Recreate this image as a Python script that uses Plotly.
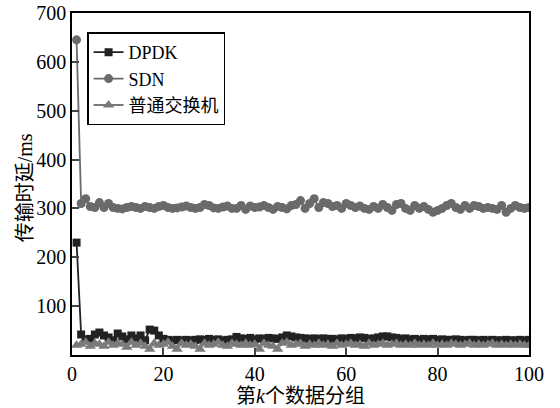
import plotly.graph_objects as go

x = list(range(1, 101))

dpdk = [230, 42, 32, 33, 42, 46, 40, 36, 30, 44, 38, 32, 40, 34, 40, 30, 52, 50, 40, 33,
        31, 30, 31, 30, 31, 30, 31, 32, 31, 33, 31, 32, 30, 31, 32, 37, 34, 33, 35, 32,
        34, 33, 35, 34, 33, 36, 40, 38, 36, 35, 34, 33, 34, 33, 34, 33, 33, 32, 34, 33,
        35, 34, 36, 35, 33, 34, 36, 38, 38, 36, 35, 33, 34, 32, 33, 31, 33, 32, 33, 31,
        32, 31, 31, 32, 31, 30, 31, 31, 30, 31, 30, 31, 30, 30, 31, 30, 30, 31, 30, 31]

sdn = [645, 310, 320, 304, 302, 312, 302, 310, 302, 300, 299, 302, 304, 302, 300, 304, 302, 300, 304, 306,
       302, 300, 301, 303, 305, 302, 300, 302, 308, 306, 301, 300, 303, 305, 300, 300, 306, 298, 305, 302,
       303, 306, 302, 298, 304, 302, 299, 306, 308, 316, 300, 310, 320, 302, 312, 310, 304, 306, 300, 310,
       306, 302, 305, 300, 298, 304, 300, 308, 302, 296, 308, 310, 300, 296, 306, 300, 304, 298, 292, 296,
       300, 306, 310, 302, 298, 306, 300, 306, 304, 300, 302, 300, 298, 306, 292, 300, 306, 302, 300, 302]

normal = [20, 22, 26, 18, 24, 22, 18, 26, 20, 24, 22, 16, 26, 20, 24, 18, 12, 24, 20, 22,
          26, 18, 12, 24, 20, 22, 18, 12, 24, 20, 22, 26, 20, 18, 24, 22, 20, 24, 20, 22,
          12, 24, 20, 18, 12, 24, 26, 20, 22, 24, 18, 22, 20, 24, 20, 22, 18, 24, 20, 22,
          24, 20, 22, 18, 24, 20, 22, 24, 20, 22, 24, 20, 22, 20, 24, 20, 22, 20, 24, 20,
          22, 20, 24, 22, 20, 22, 24, 20, 22, 20, 22, 24, 20, 22, 20, 22, 20, 22, 20, 20]

ytickvals = [100, 200, 300, 400, 500, 600, 700]
xtickvals = [0, 20, 40, 60, 80, 100]

fig = go.Figure()
fig.add_trace(go.Scatter(x=x, y=dpdk, name="DPDK", mode="lines+markers",
                         line=dict(color="#222222", width=1.8),
                         marker=dict(symbol="square", size=8, color="#222222")))
fig.add_trace(go.Scatter(x=x, y=sdn, name="SDN", mode="lines+markers",
                         line=dict(color="#6a6a6a", width=1.8),
                         marker=dict(symbol="circle", size=9, color="#6a6a6a")))
fig.add_trace(go.Scatter(x=x, y=normal, name="普通交换机", mode="lines+markers",
                         line=dict(color="#7a7a7a", width=1.8),
                         marker=dict(symbol="triangle-up", size=10, color="#7a7a7a")))

font_family = "Liberation Serif, Noto Sans CJK SC, serif"
fig.update_layout(
    width=560, height=408,
    margin=dict(l=72, r=31, t=13, b=53),
    paper_bgcolor="white", plot_bgcolor="white",
    font=dict(family=font_family, size=20, color="black"),
    showlegend=True,
    legend=dict(x=0.033, y=0.943, xanchor="left", yanchor="top",
                bgcolor="white", bordercolor="black", borderwidth=1.5,
                font=dict(size=18), tracegroupgap=0, itemsizing="trace"),
    xaxis=dict(range=[0, 100], tickvals=xtickvals, ticks="inside", ticklen=7,
               tickwidth=1.5, showline=True, linecolor="black", linewidth=1.5,
               mirror=True, showgrid=False, zeroline=False, automargin=False,
               title=dict(text="第<i>k</i>个数据分组", font=dict(size=20), standoff=4)),
    yaxis=dict(range=[0, 700], tickvals=ytickvals, ticks="inside", ticklen=7,
               tickwidth=1.5, showline=True, linecolor="black", linewidth=1.5,
               mirror=True, showgrid=False, zeroline=False, automargin=False),
    annotations=[dict(text="传输时延/ms", textangle=-90, showarrow=False,
                      xref="paper", yref="paper", x=-0.103, y=0.49,
                      xanchor="center", yanchor="middle", font=dict(size=20))],
)

fig.write_html("out.html", config={"displayModeBar": False},
               post_script="document.body.style.margin='0';")
